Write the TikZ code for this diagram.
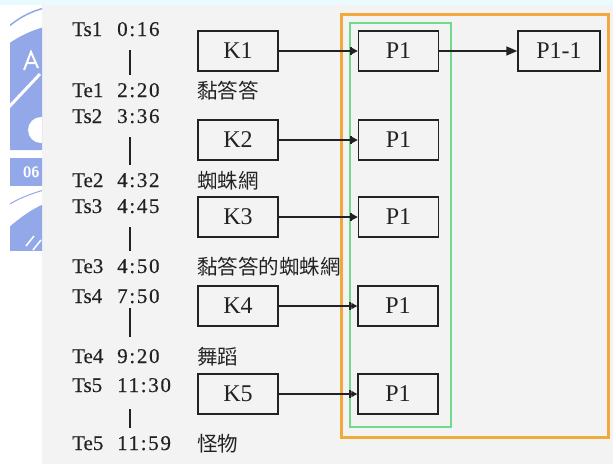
\documentclass[tikz,border=0pt]{standalone}
\usepackage{fontspec}
\setmainfont{Liberation Serif}
\newfontfamily\cjk{Noto Sans CJK TC}
\usetikzlibrary{arrows.meta}
\definecolor{bgray}{HTML}{F3F3F3}
\definecolor{topcyan}{HTML}{EAFBFF}
\definecolor{logoblue}{HTML}{93A8E8}
\definecolor{frameorange}{HTML}{F0A93A}
\definecolor{framegreen}{HTML}{6FD98C}
\definecolor{ink}{HTML}{222222}
\begin{document}
\begin{tikzpicture}[x=1pt,y=-1pt,
  box/.style={draw=ink, line width=1.4pt, minimum width=80pt, minimum height=40pt,
    inner sep=0pt, font=\fontsize{24}{24}\selectfont, text=ink},
  tlabel/.style={anchor=base west, inner sep=0pt,
    font=\fontsize{21}{21}\selectfont\addfontfeatures{FakeBold=0.4}, text=ink},
  tval/.style={anchor=base west, inner sep=0pt,
    font=\fontsize{21}{21}\selectfont\addfontfeatures{LetterSpace=8,FakeBold=0.4}, text=ink},
  zh/.style={anchor=base west, inner sep=0pt, font=\fontsize{20.5}{21}\selectfont\cjk, text=ink},
  tbar/.style={draw=ink, line width=1.4pt},
  link/.style={draw=ink, line width=1.4pt,
    -{Bar[width=8pt,line width=2.2pt] Triangle[length=6pt,width=6pt]}},
  biglink/.style={draw=ink, line width=1.6pt, -{Triangle[length=11pt,width=9pt]}},
  orangeframe/.style={draw=frameorange, line width=3pt},
  greenframe/.style={draw=framegreen, line width=2.4pt}
]
\useasboundingbox (0,0) rectangle (613,464);
% background
\fill[white] (0,0) rectangle (613,464);
\fill[bgray] (42,5) rectangle (613,464);
\fill[topcyan] (0,0) rectangle (613,5);
% logo watermark (partial)
\begin{scope}
  \clip (10,5) rectangle (42,250);
  \draw[logoblue, line width=1.5pt] (8,27) .. controls (20,17) and (30,12) .. (44,8);
  \fill[logoblue] (8,44) .. controls (20,36) and (30,31) .. (44,27) -- (44,150) -- (8,150) -- cycle;
  \draw[white, line width=3pt] (8,108) -- (40,74);
  \draw[white, line width=2pt] (24,70) -- (31,52) -- (38,68) (27,63) -- (35,63);
  \fill[white] (41,130) circle[radius=13];
  \fill[logoblue] (8,158) rectangle (44,186);
  \node[font=\sffamily\bfseries\fontsize{15}{15}\selectfont, text=white, anchor=west, inner sep=0pt] (logotext) at (23,172) {06};
  \draw[logoblue, line width=1pt] (8,205) .. controls (20,198) and (30,194) .. (44,190);
  \fill[logoblue] (8,228) .. controls (20,218) and (30,210) .. (44,204) -- (44,252) -- (8,252) -- cycle;
  \draw[white, line width=1.5pt] (26,246) -- (34,236) (33,250) -- (41,240);
\end{scope}
% frames
\draw[orangeframe] (341,14) rectangle (608,437);
\draw[greenframe] (350,23) rectangle (451,427);
% time labels
\node[tlabel] (ts1) at (72,36) {Ts1};  \node[tval] (ts1v) at (117,36) {0:16};
\node[tlabel] (te1) at (72,97) {Te1};  \node[tval] (te1v) at (117,97) {2:20};
\node[tlabel] (ts2) at (72,123) {Ts2}; \node[tval] (ts2v) at (117,123) {3:36};
\node[tlabel] (te2) at (72,187) {Te2}; \node[tval] (te2v) at (117,187) {4:32};
\node[tlabel] (ts3) at (72,213) {Ts3}; \node[tval] (ts3v) at (117,213) {4:45};
\node[tlabel] (te3) at (72,273) {Te3}; \node[tval] (te3v) at (117,273) {4:50};
\node[tlabel] (ts4) at (72,303) {Ts4}; \node[tval] (ts4v) at (117,303) {7:50};
\node[tlabel] (te4) at (72,363) {Te4}; \node[tval] (te4v) at (117,363) {9:20};
\node[tlabel] (ts5) at (72,392) {Ts5}; \node[tval] (ts5v) at (117,392) {11:30};
\node[tlabel] (te5) at (72,450) {Te5}; \node[tval] (te5v) at (117,450) {11:59};
% timeline bars
\coordinate (b1a) at (130,50);  \coordinate (b1b) at (130,75);
\coordinate (b2a) at (130,137); \coordinate (b2b) at (130,165);
\coordinate (b3a) at (130,227); \coordinate (b3b) at (130,251);
\coordinate (b4a) at (130,308); \coordinate (b4b) at (130,337);
\coordinate (b5a) at (130,409); \coordinate (b5b) at (130,428);
\draw[tbar] (b1a) -- (b1b);
\draw[tbar] (b2a) -- (b2b);
\draw[tbar] (b3a) -- (b3b);
\draw[tbar] (b4a) -- (b4b);
\draw[tbar] (b5a) -- (b5b);
% chinese labels
\node[zh] (z1) at (197,98) {黏答答};
\node[zh] (z2) at (197,188) {蜘蛛網};
\node[zh] (z3) at (197,274) {黏答答的蜘蛛網};
\node[zh] (z4) at (197,364) {舞蹈};
\node[zh] (z5) at (197,451) {怪物};
% K boxes
\node[box] (k1) at (238,51) {K1};
\node[box] (k2) at (238,140) {K2};
\node[box] (k3) at (238,217) {K3};
\node[box] (k4) at (238,306) {K4};
\node[box] (k5) at (238,394) {K5};
% P boxes
\node[box] (p1) at (398.5,51) {P1};
\node[box] (p2) at (398.5,140) {P1};
\node[box] (p3) at (398.5,217) {P1};
\node[box] (p4) at (398,306) {P1};
\node[box] (p5) at (398,394) {P1};
\node[box, minimum width=82pt] (p11) at (559,51) {P1-1};
% connectors
\draw[link] (k1) -- (p1);
\draw[link] (k2) -- (p2);
\draw[link] (k3) -- (p3);
\draw[link] (k4) -- (p4);
\draw[link] (k5) -- (p5);
\draw[biglink] (p1) -- (p11);
\end{tikzpicture}
\end{document}
